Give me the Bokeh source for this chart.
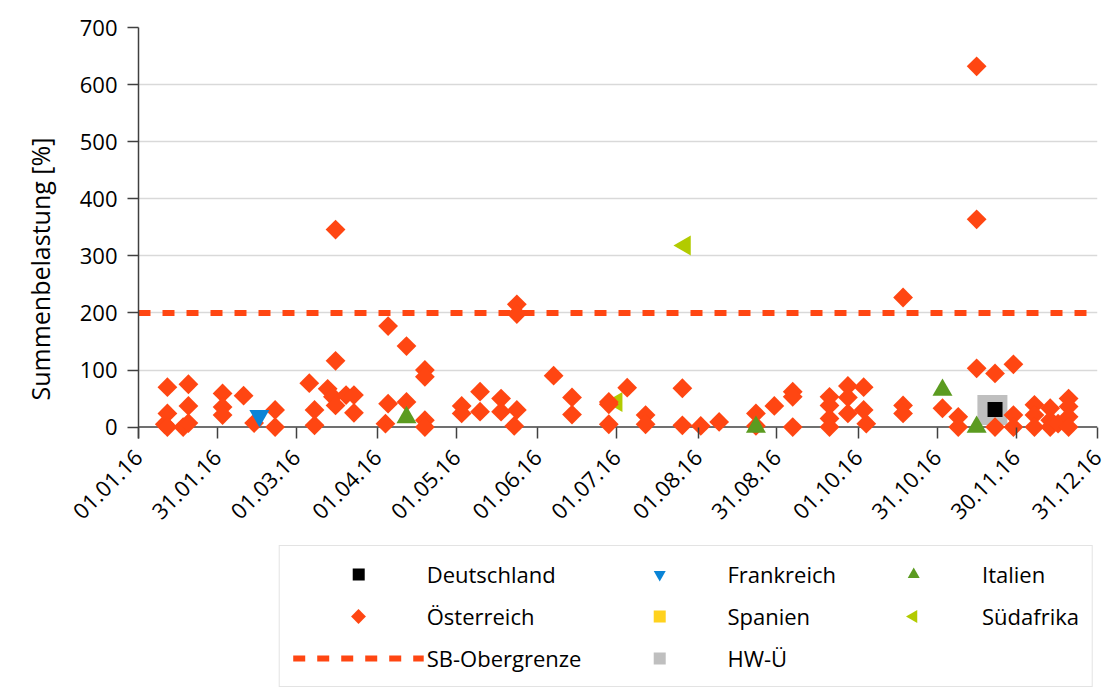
import pandas as pd
import numpy as np
from math import pi
from bokeh.plotting import figure
from bokeh.layouts import column
from bokeh.models import (ColumnDataSource, FixedTicker, Legend, LegendItem, Range1d, Span,
                          Title)
from bokeh.embed import file_html
from bokeh.resources import INLINE

# ---------------- data ----------------
oe_dates = ["2016-01-11", "2016-01-12", "2016-01-12", "2016-01-12",
            "2016-01-18", "2016-01-20", "2016-01-20", "2016-01-20",
            "2016-02-02", "2016-02-02", "2016-02-02", "2016-02-10", "2016-02-14",
            "2016-02-22", "2016-02-22", "2016-03-06", "2016-03-08", "2016-03-08",
            "2016-03-13", "2016-03-15", "2016-03-16", "2016-03-16", "2016-03-16",
            "2016-03-20", "2016-03-23", "2016-03-23",
            "2016-04-04", "2016-04-05", "2016-04-05", "2016-04-12", "2016-04-12",
            "2016-04-19", "2016-04-19", "2016-04-19", "2016-04-19",
            "2016-05-03", "2016-05-03", "2016-05-10", "2016-05-10",
            "2016-05-18", "2016-05-18", "2016-05-23", "2016-05-24", "2016-05-24", "2016-05-24",
            "2016-06-07", "2016-06-14", "2016-06-14", "2016-06-28", "2016-06-28", "2016-06-28",
            "2016-07-05", "2016-07-12", "2016-07-12", "2016-07-26", "2016-07-26",
            "2016-08-02", "2016-08-09", "2016-08-23", "2016-08-23", "2016-08-30",
            "2016-09-06", "2016-09-06", "2016-09-06",
            "2016-09-20", "2016-09-20", "2016-09-20", "2016-09-20",
            "2016-09-27", "2016-09-27", "2016-09-27", "2016-10-03", "2016-10-03", "2016-10-04",
            "2016-10-18", "2016-10-18", "2016-10-18", "2016-11-02", "2016-11-08", "2016-11-08",
            "2016-11-15", "2016-11-15", "2016-11-15", "2016-11-22", "2016-11-22",
            "2016-11-29", "2016-11-29", "2016-11-29", "2016-12-07", "2016-12-07", "2016-12-07",
            "2016-12-13", "2016-12-13", "2016-12-13", "2016-12-16",
            "2016-12-20", "2016-12-20", "2016-12-20", "2016-12-20"]
oe_values = [5, 70, 24, 0,
             0, 75, 37, 7,
             59, 35, 21, 55, 7,
             30, 0, 77, 30, 3,
             67, 53, 116, 346, 38,
             56, 56, 25,
             6, 41, 177, 44, 142,
             100, 88, 12, 0,
             37, 24, 62, 27,
             50, 27, 2, 30, 215, 198,
             90, 52, 22, 44, 40, 5,
             69, 21, 5, 68, 3,
             2, 9, 24, 2, 37,
             62, 53, 0,
             53, 38, 15, 0,
             72, 52, 24, 70, 30, 6,
             38, 24, 227, 33, 18, 0,
             103, 632, 364, 94, 0,
             110, 21, 0, 39, 21, 0,
             33, 12, 0, 6,
             50, 36, 18, 0]

de_dates = ["2016-11-22"]
de_values = [31]
fr_dates = ["2016-02-16"]
fr_values = [20]
it_dates = ["2016-04-12", "2016-08-23", "2016-11-02", "2016-11-15"]
it_values = [17, 0, 65, 0]
es_dates = []
es_values = []
za_dates = ["2016-07-01", "2016-07-27"]
za_values = [44, 318]
hw_dates = ["2016-11-21"]
hw_values = [30]

limit_dates = ["2016-01-01", "2016-12-31"]
limit_values = [200, 200]

tick_dates = ["2016-01-01", "2016-01-31", "2016-03-01", "2016-04-01", "2016-05-01",
              "2016-06-01", "2016-07-01", "2016-08-01", "2016-08-31", "2016-10-01",
              "2016-10-31", "2016-11-30", "2016-12-31"]
tick_labels = ["01.01.16", "31.01.16", "01.03.16", "01.04.16", "01.05.16",
               "01.06.16", "01.07.16", "01.08.16", "31.08.16", "01.10.16",
               "31.10.16", "30.11.16", "31.12.16"]
y_ticks = [0, 100, 200, 300, 400, 500, 600, 700]
y_title = "Summenbelastung [%]"

FONT = "Open Sans"
AXIS_COLOR = "#404040"
RED = "#FF4612"

STYLES = {
    "Deutschland": dict(marker="square", size=15, angle=0, color="black"),
    "Frankreich": dict(marker="inverted_triangle", size=20, angle=0, color="#0A84D6"),
    "Italien": dict(marker="triangle", size=20, angle=0, color="#5B9B20"),
    "Österreich": dict(marker="square", size=14, angle=pi / 4, color=RED),
    "Spanien": dict(marker="square", size=14, angle=0, color="#FFD21E"),
    "Südafrika": dict(marker="triangle", size=20, angle=pi / 2, color="#B2CB00"),
    "HW-Ü": dict(marker="square", size=30, angle=0, color="#BFBFBF"),
}
SERIES = {
    "Deutschland": (de_dates, de_values),
    "Frankreich": (fr_dates, fr_values),
    "Italien": (it_dates, it_values),
    "Österreich": (oe_dates, oe_values),
    "Spanien": (es_dates, es_values),
    "Südafrika": (za_dates, za_values),
    "HW-Ü": (hw_dates, hw_values),
}


def ms(d):
    return int(pd.Timestamp(d).value // 10**6)


def src(dates, values):
    return ColumnDataSource(dict(x=pd.to_datetime(pd.Series(dates, dtype="object")), y=values))


def add_series(fig, name, source, hidden=False):
    st = STYLES[name]
    return fig.scatter("x", "y", source=source, marker=st["marker"], size=st["size"],
                       angle=st["angle"], fill_color=None if hidden else st["color"],
                       line_color=None)


def add_limit(fig, source):
    return fig.line("x", "y", source=source, line_color=RED, line_width=6, line_dash="12 12")


# ---------------- main chart ----------------
FRAME_L, FRAME_W = 138, 959
p = figure(frame_width=FRAME_W, frame_height=411,
           x_axis_type="datetime",
           x_range=Range1d(ms(tick_dates[0]), ms(tick_dates[-1])),
           y_range=Range1d(-20, 700),
           output_backend="svg", toolbar_location=None,
           min_border_left=FRAME_L, min_border_top=27, min_border_right=7, min_border_bottom=0)
p.outline_line_color = None
p.background_fill_color = "white"

p.xgrid.grid_line_color = None
p.ygrid.grid_line_color = "#D9D9D9"
p.ygrid.grid_line_width = 1.5
p.ygrid.ticker = FixedTicker(ticks=y_ticks[1:])

# zero line acts as the x axis line
p.add_layout(Span(location=y_ticks[0], dimension="width", line_color=AXIS_COLOR,
                  line_width=1.5, level="underlay"))

p.xaxis.ticker = FixedTicker(ticks=[ms(d) for d in tick_dates])
p.xaxis.major_label_overrides = {ms(d): lab for d, lab in zip(tick_dates, tick_labels)}
p.xaxis.major_label_orientation = pi / 4
p.yaxis.ticker = FixedTicker(ticks=y_ticks)
for ax in (p.xaxis[0], p.yaxis[0]):
    ax.axis_line_color = AXIS_COLOR
    ax.axis_line_width = 1.5
    ax.major_tick_line_color = AXIS_COLOR
    ax.major_tick_line_width = 1.5
    ax.minor_tick_line_color = None
    ax.major_label_text_font = FONT
    ax.major_label_text_color = "black"
p.xaxis.axis_line_color = None
p.xaxis.major_tick_in = 11
p.xaxis.major_tick_out = 0
p.yaxis.major_tick_in = 0
p.yaxis.major_tick_out = 11
p.xaxis.major_label_text_font_size = "22px"
p.yaxis.major_label_text_font_size = "22px"
p.yaxis.major_label_standoff = 10
p.xaxis.major_label_standoff = 15

p.add_layout(Title(text=y_title, align="left", offset=38, standoff=40,
                   text_font=FONT, text_font_size="25px", text_font_style="normal",
                   text_color="black"), "left")

# draw order chosen to match the overlaps in the picture
add_series(p, "HW-Ü", src(*SERIES["HW-Ü"]))
add_limit(p, src(limit_dates, limit_values))
add_series(p, "Südafrika", src(*SERIES["Südafrika"]))
add_series(p, "Österreich", src(*SERIES["Österreich"]))
add_series(p, "Spanien", src(*SERIES["Spanien"]))
add_series(p, "Frankreich", src(*SERIES["Frankreich"]))
add_series(p, "Italien", src(*SERIES["Italien"]))
add_series(p, "Deutschland", src(*SERIES["Deutschland"]))

# ---------------- legend panel ----------------
LF_W, LF_H, LF_TOP = 1104, 158, 12
# the column layout aligns this frame with the chart frame, so page px are used as data units
lf = figure(width=LF_W, height=LF_H, x_range=Range1d(FRAME_L, FRAME_L + FRAME_W),
            y_range=Range1d(0, LF_H - LF_TOP),
            output_backend="svg", toolbar_location=None,
            min_border_left=0, min_border_right=0, min_border_top=LF_TOP, min_border_bottom=0)
lf.axis.visible = False
lf.grid.visible = False
lf.outline_line_color = None


def swatch():
    # one undrawable (NaN) row, only used for the legend swatch
    return ColumnDataSource(dict(x=[np.nan], y=[np.nan]))


# Bokeh legend swatches ignore marker angles, so the two rotated markers get an
# empty legend swatch and are drawn in their legend slot instead.
ROTATED = ["Österreich", "Südafrika"]
leg_r = {name: add_series(lf, name, swatch(), hidden=name in ROTATED) for name in STYLES}
leg_r["SB-Obergrenze"] = add_limit(lf, swatch())
slot_x = {"Österreich": 358, "Südafrika": 913}   # legend slot centres (px)
slot_y = 71
for name in ROTATED:
    st = STYLES[name]
    lf.scatter([slot_x[name]], [slot_y], marker=st["marker"],
               size=10.5 if name == "Österreich" else 13, angle=st["angle"],
               fill_color=st["color"], line_color=None)

order = ["Deutschland", "Österreich", "SB-Obergrenze",
         "Frankreich", "Spanien", "HW-Ü",
         "Italien", "Südafrika"]
legend = Legend(items=[LegendItem(label=n, renderers=[leg_r[n]]) for n in order],
                orientation="vertical", nrows=3, location="top_right",
                glyph_width=131, glyph_height=30, label_standoff=3, spacing=12, padding=13,
                margin=4, border_line_color="#C8C8C8", border_line_width=1.5,
                background_fill_alpha=0.0,
                label_text_font=FONT, label_text_font_size="22px", label_text_color="black")
lf.add_layout(legend)

layout = column(p, lf, spacing=0)
open("out.html", "w").write(file_html(layout, INLINE))
